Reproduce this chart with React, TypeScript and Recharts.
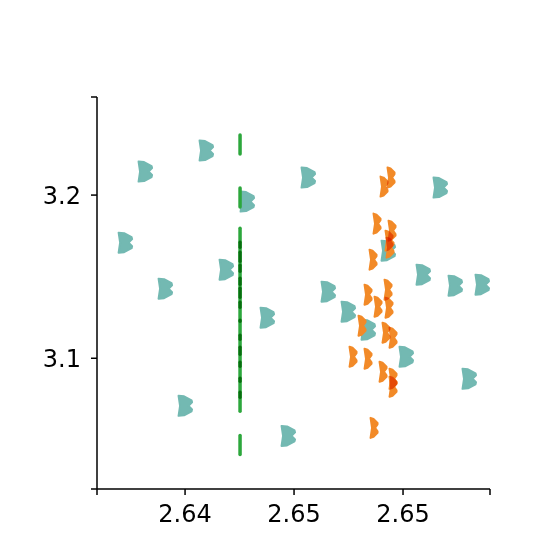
import { Scatter, ScatterChart, XAxis, YAxis } from 'recharts'

const TEAL_X = [
  2.63925, 2.640165, 2.641083, 2.642, 2.642963, 2.643881, 2.644844, 2.645761, 2.646725, 2.647642,
  2.648559, 2.649477, 2.650394, 2.651312, 2.652137, 2.652917, 2.653697, 2.654385, 2.655027, 2.655623,
]
const TEAL_Y = [
  3.17086, 3.21442, 3.14264, 3.07086, 3.2273, 3.15429, 3.19601, 3.12485, 3.05245, 3.21074,
  3.1408, 3.12853, 3.11748, 3.16595, 3.10092, 3.15123, 3.2046, 3.14448, 3.08742, 3.14509,
]

const ORANGE_X = [
  2.651128, 2.651449, 2.650807, 2.651495, 2.651357, 2.651403, 2.650624, 2.650394, 2.651312, 2.650853,
  2.651357, 2.650119, 2.65122, 2.651541, 2.649706, 2.650394, 2.651083, 2.651541, 2.651541, 2.65067,
]
const ORANGE_Y = [
  3.20521, 3.21074, 3.18252, 3.17822, 3.17209, 3.16779, 3.16043, 3.13896, 3.14202, 3.1316,
  3.13098, 3.11994, 3.11564, 3.11258, 3.10092, 3.09969, 3.09172, 3.08742, 3.08252, 3.05736,
]

const GREEN_X = 2.644523
const GREEN_Y = [
  3.23098, 3.19847, 3.17393, 3.16534, 3.1592, 3.15123, 3.14325, 3.13712, 3.12853, 3.11748,
  3.10828, 3.10092, 3.09172, 3.0819, 3.07331, 3.04693,
]

const X_TICKS = [2.63796, 2.642, 2.647, 2.652, 2.65599]
const X_TICK_LABELS = ['', '2.64', '2.65', '2.65', '']
const Y_TICKS = [3.0199, 3.1, 3.2, 3.2601]
const Y_TICK_LABELS = ['', '3.1', '3.2', '']

const teal = TEAL_X.map((x, i) => ({ x, y: TEAL_Y[i] }))
const orange = ORANGE_X.map((x, i) => ({ x, y: ORANGE_Y[i] }))
const green = GREEN_Y.map((y) => ({ x: GREEN_X, y }))

// multiply so overlaps darken like the reference
const blend = { mixBlendMode: 'multiply' as const }

function TealMark(p: any) {
  const { cx, cy } = p
  return (
    <path
      transform={`translate(${cx},${cy})`}
      d="M-6.5,-10 L-1,-9.5 L6.5,-5.5 L7,-3.5 L3.5,0 L7,3.5 L6.5,5.5 L-1,9.5 L-6.5,10 L-5,0 Z"
      fill="#73b9b2" stroke="#73b9b2" strokeWidth={2} strokeLinejoin="round"
      style={blend}
    />
  )
}

function OrangeMark(p: any) {
  const { cx, cy } = p
  return (
    <path
      transform={`translate(${cx},${cy})`}
      d="M-3.5,-10 L-0.5,-9 L3.5,-5 L3.5,-3.5 L1,0 L3.5,3.5 L3.5,5 L-0.5,9 L-3.5,10 L-2,0 Z"
      fill="#f28a28" stroke="#f28a28" strokeWidth={2} strokeLinejoin="round"
      style={blend}
    />
  )
}

function GreenMark(p: any) {
  const { cx, cy } = p
  return (
    <line
      x1={cx} x2={cx} y1={cy - 9.5} y2={cy + 9.5}
      stroke="#2ca73c" strokeWidth={3.5} strokeLinecap="round"
      style={blend}
    />
  )
}

const tickStyle = { fontSize: 24, fill: '#000', fontFamily: 'DejaVu Sans' }

export default function App() {
  return (
    <div style={{ position: 'absolute', left: 0, top: 0, width: 544, height: 544, background: '#fff' }}>
      <ScatterChart width={544} height={544} margin={{ top: 97, right: 54, bottom: 5, left: 37 }}>
        <XAxis
          type="number" dataKey="x" domain={[X_TICKS[0], X_TICKS[4]]} ticks={X_TICKS}
          interval={0} allowDataOverflow height={50}
          tickFormatter={(v: number) => X_TICK_LABELS[X_TICKS.indexOf(v)] ?? ''}
          tick={tickStyle} tickSize={6} tickMargin={10}
          axisLine={{ stroke: '#000', strokeWidth: 1.5 }} tickLine={{ stroke: '#000', strokeWidth: 1.5 }}
        />
        <YAxis
          type="number" dataKey="y" domain={[Y_TICKS[0], Y_TICKS[3]]} ticks={Y_TICKS}
          interval={0} allowDataOverflow width={60}
          tickFormatter={(v: number) => Y_TICK_LABELS[Y_TICKS.indexOf(v)] ?? ''}
          tick={tickStyle} tickSize={6} tickMargin={10}
          axisLine={{ stroke: '#000', strokeWidth: 1.5 }} tickLine={{ stroke: '#000', strokeWidth: 1.5 }}
        />
        <Scatter data={teal} shape={TealMark} isAnimationActive={false} />
        <Scatter data={orange} shape={OrangeMark} isAnimationActive={false} />
        <Scatter data={green} shape={GreenMark} isAnimationActive={false} />
      </ScatterChart>
    </div>
  )
}
